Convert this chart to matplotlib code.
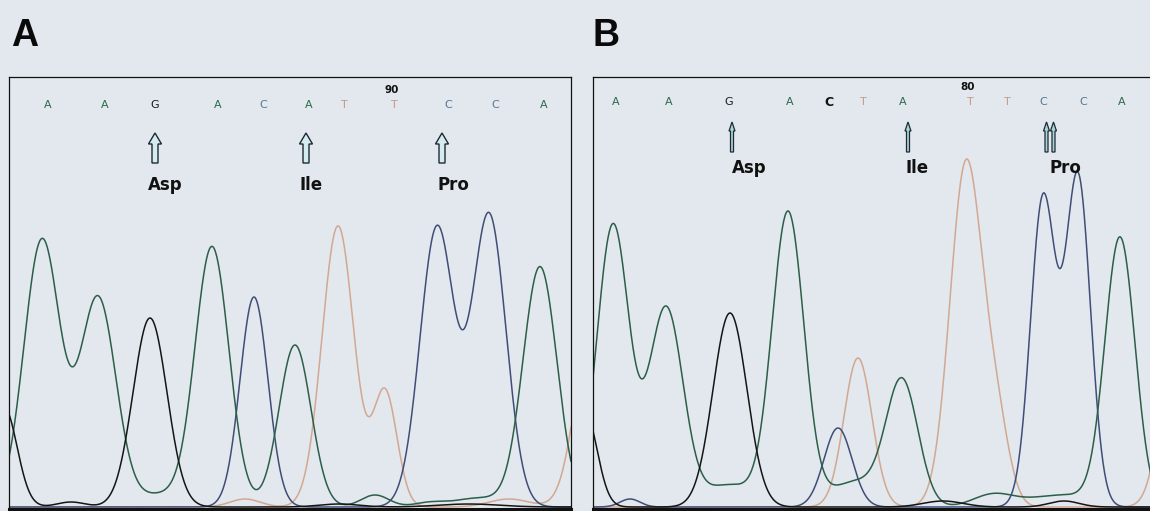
import numpy as np
import matplotlib
matplotlib.use("Agg")
import matplotlib.pyplot as plt
from matplotlib.patches import FancyArrow

# ---------------- data ----------------
# Base calls (scan position, letter) for each panel
calls_A_pos = [39, 96, 146, 209, 254, 300, 335, 385, 439, 486, 535]
calls_A_seq = ["A", "A", "G", "A", "C", "A", "T", "T", "C", "C", "A"]
calls_B_pos = [23, 76, 136, 197, 236, 270, 310, 377, 414, 450, 490, 529]
calls_B_seq = ["A", "A", "G", "A", "C", "T", "A", "T", "T", "C", "C", "A"]
marker_A = ("90", 383)
marker_B = ("80", 375)

# Codon labels: arrow position and label position (scan units)
codon_names = ["Asp", "Ile", "Pro"]
codon_A_pos = [146, 297, 433]
codon_A_lab = [156, 302, 444]
codon_B_pos = [139, 315, 457]
codon_B_lab = [156, 324, 472]

# Peaks per dye channel: centre (scan), height (intensity), width (scan)
A_green_c = [33, 89, 203, 286, 531, 150, 366, 470, 420]
A_green_h = [267, 209, 260, 162, 240, 12, 12, 9, 4]
A_green_w = [18, 18, 17, 16, 17, 22, 14, 25, 15]
A_black_c = [-5, 141, 62, 330, 460]
A_black_h = [100, 189, 5, 3, 3]
A_black_w = [13, 17, 14, 20, 30]
A_blue_c = [245, 428, 480]
A_blue_h = [210, 279, 292]
A_blue_w = [14, 17, 17]
A_orange_c = [329, 376, 585, 236, 500]
A_orange_h = [281, 115, 200, 8, 8]
A_orange_w = [16, 12, 17, 15, 20]

B_green_c = [20, 73, 195, 309, 527, 136, 262, 400, 470]
B_green_h = [282, 199, 294, 125, 267, 22, 25, 12, 12]
B_green_w = [16, 17, 16, 16, 15, 25, 25, 20, 35]
B_black_c = [-8, 137, 350, 471]
B_black_h = [95, 194, 6, 6]
B_black_w = [12, 17, 20, 15]
B_blue_c = [37, 245, 450, 485]
B_blue_h = [8, 79, 307, 329]
B_blue_w = [10, 14, 12.5, 12.5]
B_orange_c = [265, 373, 403, 585]
B_orange_h = [149, 342, 80, 200]
B_orange_w = [14, 16, 13, 15]

# ---------------- style ----------------
BG = "#e2e8ed"
COL = {"A": "#2c5e48", "G": "#151515", "C": "#3f4e78", "T": "#d2a892"}
LETTER_COL = {"A": "#2b6a4c", "G": "#1a1a1a", "C": "#5a7590", "T": "#c49a88"}


def trace(x, centres, heights, widths):
    y = np.zeros_like(x)
    for c, h, w in zip(centres, heights, widths):
        y += h * np.exp(-0.5 * ((x - c) / w) ** 2)
    return y


W, H = 1150, 511
fig = plt.figure(figsize=(W / 100, H / 100), dpi=100, facecolor=BG)

def px_axes(left, bottom, width, height):
    return fig.add_axes([left / W, bottom / H, width / W, height / H])

axA = px_axes(9, 2, 562, 432)
axB = px_axes(593, 2, 565, 432)

panels = [
    (axA, "A", 562,
     [(A_green_c, A_green_h, A_green_w, "A"), (A_black_c, A_black_h, A_black_w, "G"),
      (A_blue_c, A_blue_h, A_blue_w, "C"), (A_orange_c, A_orange_h, A_orange_w, "T")],
     calls_A_pos, calls_A_seq, marker_A, codon_A_pos, codon_A_lab),
    (axB, "B", 565,
     [(B_green_c, B_green_h, B_green_w, "A"), (B_black_c, B_black_h, B_black_w, "G"),
      (B_blue_c, B_blue_h, B_blue_w, "C"), (B_orange_c, B_orange_h, B_orange_w, "T")],
     calls_B_pos, calls_B_seq, marker_B, codon_B_pos, codon_B_lab),
]

for ax, name, xmax, chans, cpos, cseq, marker, codons, labpos in panels:
    ax.set_facecolor(BG)
    ax.set_xlim(0, xmax)
    ax.set_ylim(-2, 430)
    ax.set_xticks([])
    ax.set_yticks([])
    for s in ax.spines.values():
        s.set_linewidth(0.9)
        s.set_color("#111111")
    ax.spines["bottom"].set_linewidth(2.2)
    x = np.linspace(0, xmax, 1500)
    for order in ["T", "C", "A", "G"]:
        for c, h, w, base in chans:
            if base == order:
                ax.plot(x, trace(x, c, h, w), color=COL[base], lw=1.1,
                        solid_capstyle="round", zorder=2)
    # base calls
    ytxt = 402 if name == "A" else 405
    for p, b in zip(cpos, cseq):
        bold = (name == "B" and b == "C" and p < 300)
        ax.text(p, ytxt, b, ha="center", va="center",
                fontsize=9 if bold else 8,
                fontweight="bold" if bold else "normal",
                color="#111111" if bold else LETTER_COL[b],
                family="DejaVu Sans", zorder=3)
    ax.text(marker[1], ytxt + 15, marker[0], ha="center", va="center",
            fontsize=7.5, fontweight="bold", color="#111111",
            family="DejaVu Sans")
    # arrows + amino acid labels
    for p, lp, lab in zip(codons, labpos, codon_names):
        if name == "A":
            ax.add_patch(FancyArrow(p, 344, 0, 30, width=6, head_width=13,
                                    head_length=11, length_includes_head=True,
                                    fc="#d4ecf0", ec="#1f2a30", lw=1.0, zorder=4))
            ax.text(lp, 322, lab, ha="center", va="center", fontsize=12,
                    fontweight="bold", color="#111111", family="DejaVu Sans")
        else:
            offs = [-3.5, 3.5] if lab == "Pro" else [0]
            for o in offs:
                ax.add_patch(FancyArrow(p + o, 355, 0, 30, width=3, head_width=6,
                                        head_length=9, length_includes_head=True,
                                        fc="#a9d4de", ec="#1f2a30", lw=0.9, zorder=4))
            ax.text(lp, 339, lab, ha="center", va="center", fontsize=12,
                    fontweight="bold", color="#111111", family="DejaVu Sans")

fig.text(25 / W, 1 - 36 / H, "A", ha="center", va="center", fontsize=27,
         fontweight="bold", family="Liberation Sans", color="#0a0a0a")
fig.text(606 / W, 1 - 36 / H, "B", ha="center", va="center", fontsize=27,
         fontweight="bold", family="Liberation Sans", color="#0a0a0a")

fig.savefig("out.png", dpi=100, facecolor=BG)
